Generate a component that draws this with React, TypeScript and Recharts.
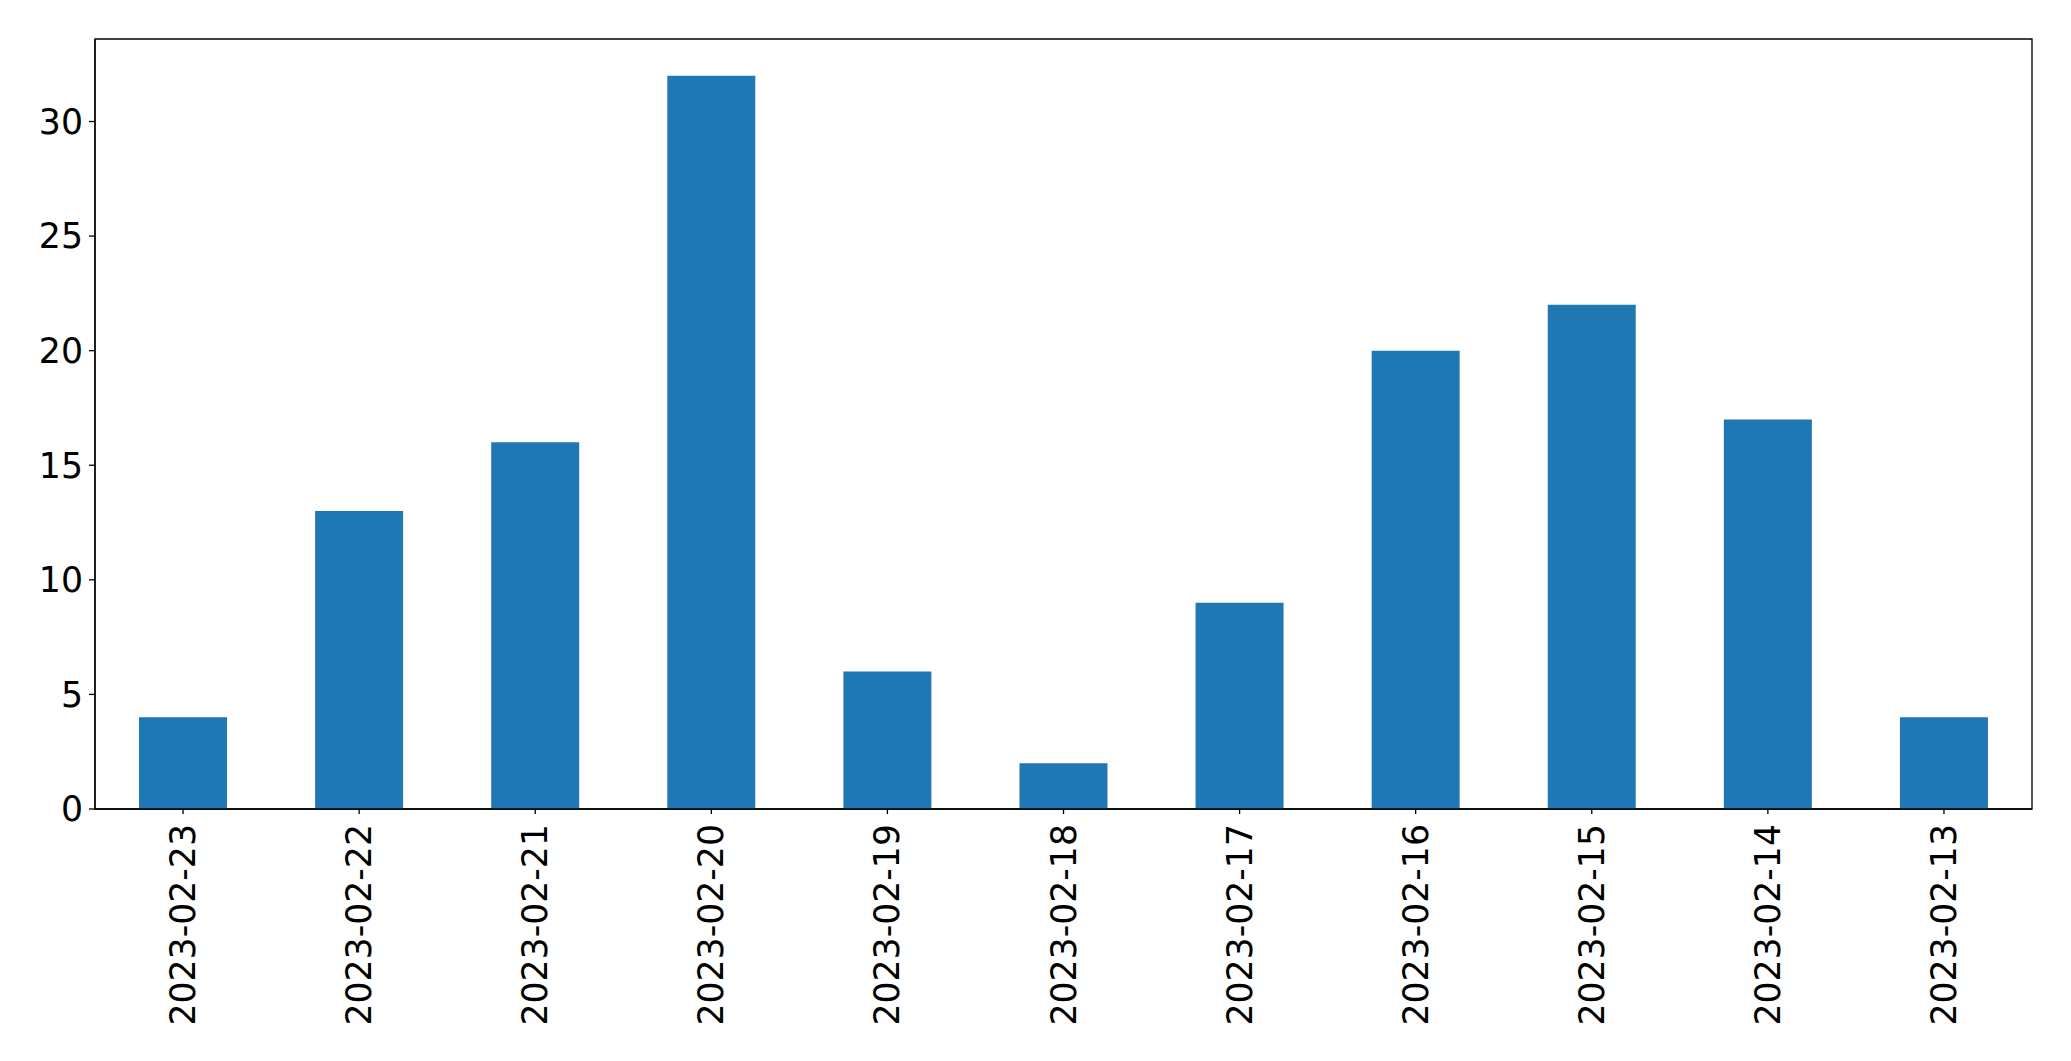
import { Bar, BarChart, ReferenceArea, XAxis, YAxis } from "recharts";

const dates = [
  "2023-02-23",
  "2023-02-22",
  "2023-02-21",
  "2023-02-20",
  "2023-02-19",
  "2023-02-18",
  "2023-02-17",
  "2023-02-16",
  "2023-02-15",
  "2023-02-14",
  "2023-02-13",
];
const counts = [4, 13, 16, 32, 6, 2, 9, 20, 22, 17, 4];
const yTicks = [0, 5, 10, 15, 20, 25, 30];
const yMax = 33.6;

const data = dates.map((d, i) => ({ date: d, count: counts[i] }));

const FONT = "DejaVu Sans, sans-serif";
const FONT_SIZE = 34.7;

function DateTick(props: any) {
  const { x, y, payload } = props;
  const ty = y + 8;
  return (
    <text
      x={x}
      y={ty}
      transform={`rotate(-90, ${x}, ${ty})`}
      textAnchor="end"
      dominantBaseline="central"
      fontSize={FONT_SIZE}
      fontFamily={FONT}
      fill="#000"
    >
      {payload.value}
    </text>
  );
}

export default function App() {
  return (
    <div style={{ position: "absolute", left: 0, top: 0, background: "#fff" }}>
      <BarChart
        width={2071}
        height={1061}
        data={data}
        margin={{ top: 39, right: 39, bottom: 0, left: 0 }}
        barCategoryGap="25%"
      >
        <XAxis
          dataKey="date"
          height={252}
          interval={0}
          tickSize={5}
          tick={<DateTick />}
          axisLine={{ stroke: "#000", strokeWidth: 1.3 }}
          tickLine={{ stroke: "#000", strokeWidth: 1.3 }}
        />
        <YAxis
          width={95}
          domain={[0, yMax]}
          ticks={yTicks}
          tickSize={6}
          tickMargin={6}
          tick={{ fontSize: FONT_SIZE, fontFamily: FONT, fill: "#000" }}
          axisLine={{ stroke: "#000", strokeWidth: 1.3 }}
          tickLine={{ stroke: "#000", strokeWidth: 1.3 }}
        />
        <Bar dataKey="count" fill="#1f77b4" isAnimationActive={false} />
        {/* axes frame like matplotlib's spines */}
        <ReferenceArea
          x1={dates[0]}
          x2={dates[dates.length - 1]}
          y1={0}
          y2={yMax}
          fill="none"
          fillOpacity={0}
          stroke="#000"
          strokeWidth={1.3}
          ifOverflow="visible"
        />
      </BarChart>
    </div>
  );
}
